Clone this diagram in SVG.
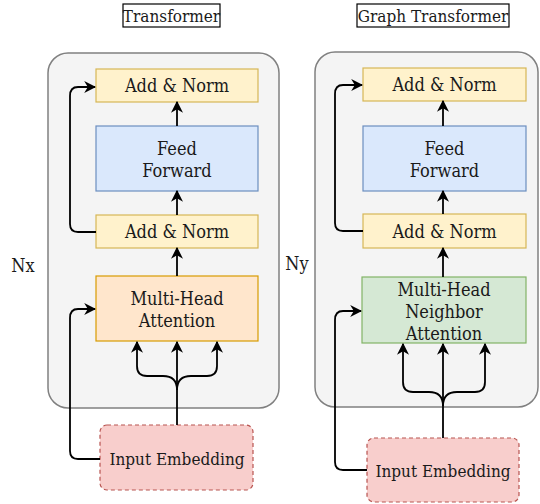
<svg xmlns="http://www.w3.org/2000/svg" width="540" height="504" viewBox="0 0 540 504">
<defs>
<style>
text{font-family:"DejaVu Serif Condensed","DejaVu Serif",serif;font-stretch:condensed;font-size:17px;fill:#1a1a1a;text-anchor:middle}
.big{font-size:18px}
.panel{fill:#f4f4f4;stroke:#808080;stroke-width:1.5}
.title{fill:#ffffff;stroke:#000;stroke-width:1.2}
.an{fill:#fff2cc;stroke:#d6b656;stroke-width:1.2}
.ff{fill:#dae8fc;stroke:#6c8ebf;stroke-width:1.2}
.mha{fill:#ffe6cc;stroke:#d79b00;stroke-width:1.2}
.mhna{fill:#d5e8d4;stroke:#82b366;stroke-width:1.2}
.ie{fill:#f8cecc;stroke:#b85450;stroke-width:1.2;stroke-dasharray:4 3}
.ca{fill:none;stroke:#000;stroke-width:1.8;marker-end:url(#ah)}
</style>
<marker id="ah" viewBox="0 0 10 10" refX="9" refY="5" markerWidth="12" markerHeight="12" markerUnits="userSpaceOnUse" orient="auto">
<path d="M0,0 L10,5 L0,10 L3,5 z" fill="#000"/>
</marker>
</defs>
<!-- Left: Transformer -->
<g id="title-transformer"><rect class="title" x="123" y="4" width="97" height="23"/><text x="171.5" y="21.5">Transformer</text></g>
<g id="panel-left"><rect class="panel" x="48" y="53" width="231" height="355" rx="20"/></g>
<g id="nx"><text class="big" x="23" y="272">Nx</text></g>
<g id="addnorm-top-left"><rect class="an" x="96" y="69" width="162" height="33"/><text class="big" x="177" y="92">Add &amp; Norm</text></g>
<g id="ff-left"><rect class="ff" x="96" y="126" width="162" height="65"/><text class="big" x="177" y="155">Feed</text><text class="big" x="177" y="177">Forward</text></g>
<g id="addnorm-low-left"><rect class="an" x="96" y="215" width="162" height="33"/><text class="big" x="177" y="238">Add &amp; Norm</text></g>
<g id="mha-left"><rect class="mha" x="96" y="276" width="162" height="65"/><text class="big" x="177" y="305">Multi-Head</text><text class="big" x="177" y="327">Attention</text></g>
<g id="ie-left"><rect class="ie" x="100" y="425" width="153" height="65" rx="7"/><text x="177" y="465">Input Embedding</text></g>

<!-- Right: Graph Transformer -->
<g id="title-graph"><rect class="title" x="357" y="4" width="152" height="23"/><text x="433" y="21.5">Graph Transformer</text></g>
<g id="panel-right"><rect class="panel" x="315" y="52" width="223" height="355" rx="20"/></g>
<g id="ny"><text class="big" x="297" y="270">Ny</text></g>
<g id="addnorm-top-right"><rect class="an" x="363" y="68" width="163" height="33"/><text class="big" x="444.5" y="91">Add &amp; Norm</text></g>
<g id="ff-right"><rect class="ff" x="363" y="126" width="163" height="65"/><text class="big" x="444.5" y="155">Feed</text><text class="big" x="444.5" y="177">Forward</text></g>
<g id="addnorm-low-right"><rect class="an" x="363" y="214" width="163" height="34"/><text class="big" x="444.5" y="238">Add &amp; Norm</text></g>
<g id="mhna-right"><rect class="mhna" x="362" y="277" width="164" height="66"/><text class="big" x="444" y="296">Multi-Head</text><text class="big" x="444" y="318">Neighbor</text><text class="big" x="444" y="340">Attention</text></g>
<g id="ie-right"><rect class="ie" x="367" y="438" width="152" height="64" rx="7"/><text x="443" y="477">Input Embedding</text></g>

<g id="connectors">
<path class="ca" d="M177,126 V102"/>
<path class="ca" d="M177,215 V191"/>
<path class="ca" d="M177,276 V248"/>
<path class="ca" d="M96,232 H78 Q70,232 70,224 V96 Q70,87 78,87 H95"/>
<path class="ca" d="M100,459 H78 Q70,459 70,451 V318 Q70,309 78,309 H95"/>
<path class="ca" d="M177,425 V342"/>
<path class="ca" d="M177,390 Q177,376 163,376 H147 Q137,376 137,366 V342"/>
<path class="ca" d="M177,390 Q177,376 191,376 H207 Q217,376 217,366 V342"/>
<path class="ca" d="M443,126 V101"/>
<path class="ca" d="M443,214 V191"/>
<path class="ca" d="M443,277 V248"/>
<path class="ca" d="M363,231 H343 Q335,231 335,223 V94 Q335,85 343,85 H362"/>
<path class="ca" d="M367,470 H343 Q335,470 335,462 V320 Q335,311 343,311 H361"/>
<path class="ca" d="M443,438 V344"/>
<path class="ca" d="M443,406 Q443,392 429,392 H413 Q403,392 403,382 V344"/>
<path class="ca" d="M443,406 Q443,392 457,392 H475 Q485,392 485,382 V344"/>
</g>
</svg>
